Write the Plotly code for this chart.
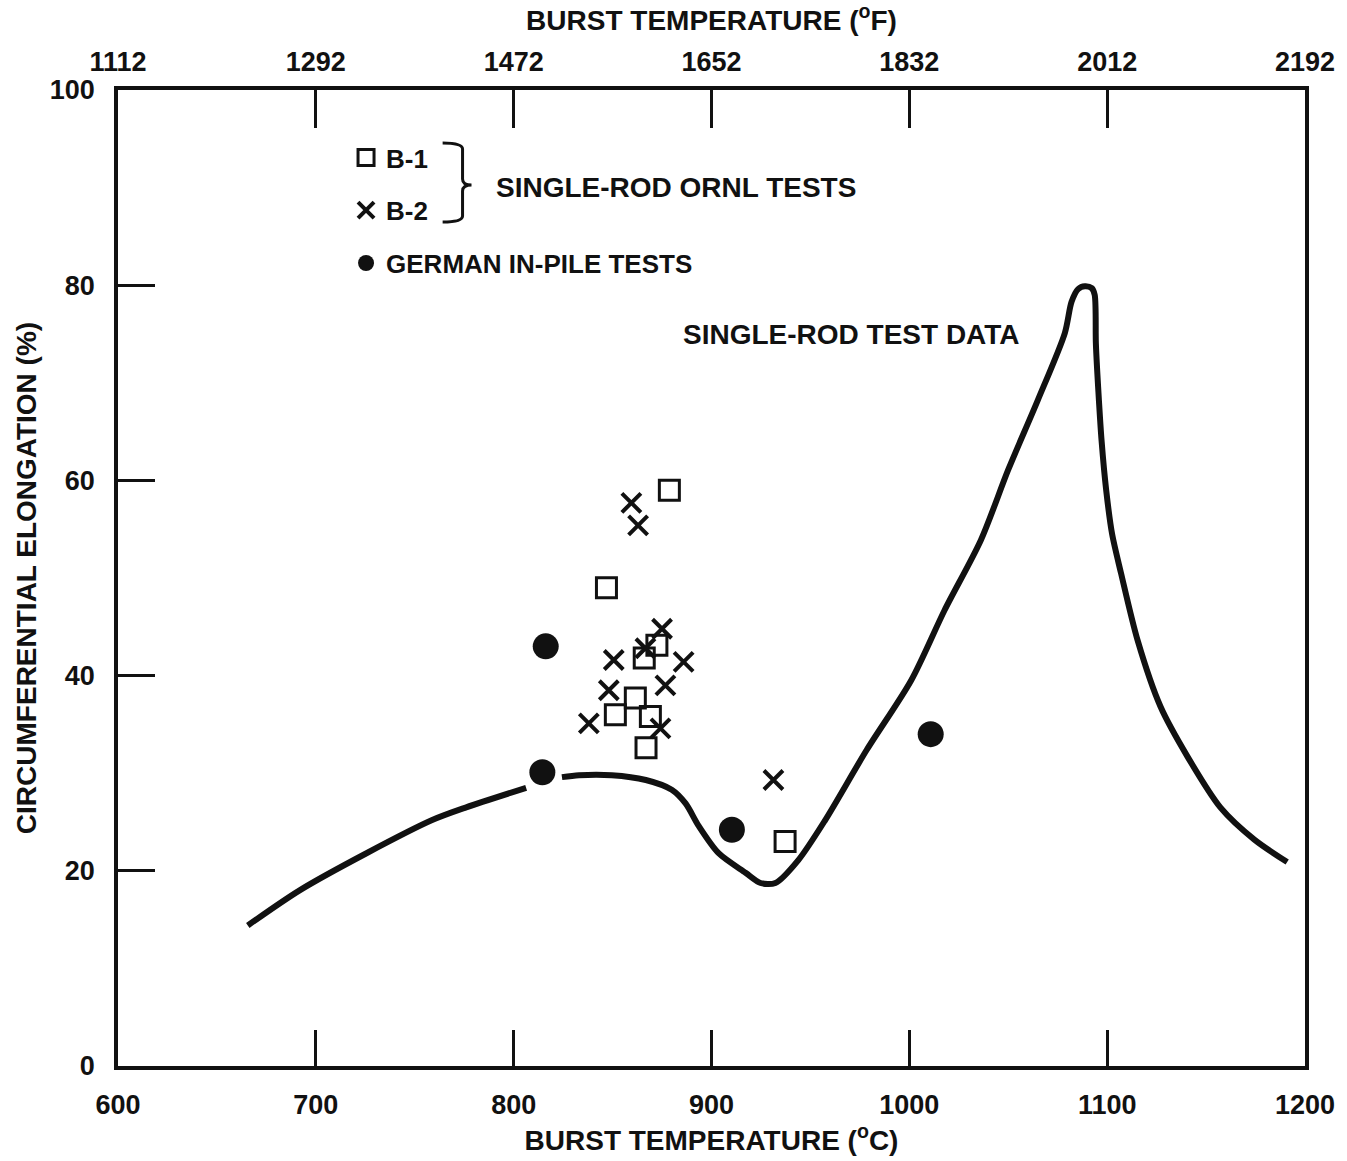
import plotly.graph_objects as go

# ---------------- data ----------------
# B-1 (squares)
b1_temp = [878.7, 846.9, 872.4, 866.0, 861.5, 851.4, 869.1, 866.9, 937.2]
b1_elong = [59.0, 49.0, 43.1, 41.8, 37.7, 36.0, 35.8, 32.6, 23.0]

# B-2 (crosses)
b2_temp = [859.5, 862.9, 875.0, 866.6, 850.6, 885.9, 876.7, 848.1, 838.0, 874.2, 931.3]
b2_elong = [57.7, 55.4, 44.8, 42.8, 41.6, 41.4, 39.0, 38.5, 35.1, 34.6, 29.3]

# German in-pile tests (filled circles)
ger_temp = [816.2, 814.5, 910.3, 1010.8]
ger_elong = [43.0, 30.1, 24.2, 34.0]

# Single-rod test data curve (two segments, broken near 815 C)
curve_temp_a = [665.6, 691.8, 725.6, 758.8, 776.0, 806.3]
curve_elong_a = [14.4, 18.0, 21.8, 25.2, 26.5, 28.5]
curve_temp_b = [824.4, 833.0, 849.6, 866.8, 879.9, 886.9, 893.5, 903.6, 917.2, 924.8,
                932.3, 943.9, 957.5, 978.5, 1000.9, 1017.8, 1036.2, 1050.0,
                1064.9, 1078.6, 1082.0, 1085.3, 1088.7, 1092.2, 1093.7, 1094.3,
                1095.6, 1097.2, 1099.5, 1102.5, 1107.0, 1115.4, 1127.0, 1140.6, 1157.2,
                1174.4, 1191.0]
curve_elong_b = [29.6, 29.8, 29.8, 29.3, 28.3, 26.9, 24.6, 21.8, 19.8, 18.75,
                 18.75, 21.1, 25.2, 32.4, 39.5, 46.7, 53.9, 61.1,
                 68.2, 75.1, 78.3, 79.6, 79.9, 79.7, 79.0, 74.0,
                 69.0, 64.0, 59.0, 54.5, 50.5, 43.6, 36.8, 31.7, 26.5,
                 23.2, 20.9]

# axes
c_ticks = [600, 700, 800, 900, 1000, 1100, 1200]
f_ticks = ["1112", "1292", "1472", "1652", "1832", "2012", "2192"]
y_ticks = [0, 20, 40, 60, 80, 100]

# ---------------- figure ----------------
W, H = 1347, 1161
ML, MR, MT, MB = 118, 37, 90, 95
PW, PH = W - ML - MR, H - MT - MB

def px(x, y):
    return (x - ML) / PW, (H - MB - y) / PH

FONT = "Liberation Sans, Arial, Helvetica, sans-serif"
INK = "#111111"

fig = go.Figure()

curve_x = curve_temp_a + [None] + curve_temp_b
curve_y = curve_elong_a + [None] + curve_elong_b
fig.add_trace(go.Scatter(x=curve_x, y=curve_y, mode="lines",
                         line=dict(color=INK, width=6, shape="spline", smoothing=0.8),
                         connectgaps=False, showlegend=False, hoverinfo="skip"))

fig.add_trace(go.Scatter(x=b1_temp, y=b1_elong, mode="markers", name="B-1",
                         legendgroup="b1",
                         marker=dict(symbol="square-open", size=20, color=INK,
                                     line=dict(width=3, color=INK))))
fig.add_trace(go.Scatter(x=b2_temp, y=b2_elong, mode="markers", name="B-2",
                         legendgroup="b2",
                         marker=dict(symbol="x-thin-open", size=19, color=INK,
                                     line=dict(width=4, color=INK))))
fig.add_trace(go.Scatter(x=ger_temp, y=ger_elong, mode="markers", name="GERMAN IN-PILE TESTS",
                         legendgroup="ger",
                         marker=dict(symbol="circle", size=26, color=INK)))

# invisible trace for top axis
fig.add_trace(go.Scatter(x=[600, 1200], y=[0, 0], xaxis="x2", mode="markers",
                         marker=dict(opacity=0), showlegend=False, hoverinfo="skip"))

tickfont = dict(family=FONT, size=27, color=INK, weight="bold")
titlefont = dict(family=FONT, size=28, color=INK, weight="bold")

fig.update_layout(
    width=W, height=H,
    margin=dict(l=ML, r=MR, t=MT, b=MB),
    paper_bgcolor="white", plot_bgcolor="white",
    font=dict(family=FONT, color=INK),
    xaxis=dict(range=[600, 1200], tickvals=c_ticks, ticktext=[str(v) for v in c_ticks],
               ticks="inside", ticklen=36, tickwidth=2.5, tickcolor=INK,
               showline=True, linewidth=3.5, linecolor=INK, showgrid=False, zeroline=False,
               tickfont=tickfont, ticklabelstandoff=12,
               title=dict(text="BURST TEMPERATURE (<sup>o</sup>C)", font=titlefont, standoff=4)),
    xaxis2=dict(range=[600, 1200], overlaying="x", side="top", tickvals=c_ticks, ticktext=f_ticks,
                ticks="inside", ticklen=38, tickwidth=2.5, tickcolor=INK,
                showline=True, linewidth=3.5, linecolor=INK, showgrid=False, zeroline=False,
                tickfont=tickfont, ticklabelstandoff=4,
                title=dict(text="BURST TEMPERATURE (<sup>o</sup>F)", font=titlefont, standoff=10)),
    yaxis=dict(range=[0, 100], tickvals=y_ticks, ticks="inside", ticklen=37, tickwidth=2.5,
               tickcolor=INK, showline=True, linewidth=3.5, linecolor=INK, mirror=True,
               showgrid=False, zeroline=False, tickfont=tickfont, ticklabelstandoff=14,
               title=dict(text="CIRCUMFERENTIAL ELONGATION (%)", font=titlefont, standoff=6)),
    legend=dict(x=px(347, 0)[0], y=px(0, 134)[1], xanchor="left", yanchor="top",
                bgcolor="rgba(0,0,0,0)", font=dict(family=FONT, size=26, color=INK, weight="bold"),
                traceorder="grouped", tracegroupgap=16, itemsizing="trace"),
    showlegend=True,
)

# brace for the legend
bx0, bx1, bxm = 444, 464, 473
by0, by1, bym = 143, 222, 185
pts = [(bx0, by0), (bx1 - 4, by0 + 1), (bx1, by0 + 6), (bx1, bym - 6), (bxm, bym),
       (bx1, bym + 6), (bx1, by1 - 6), (bx1 - 4, by1 - 1), (bx0, by1)]
pp = [px(a, b) for a, b in pts]
path = (f"M {pp[0][0]} {pp[0][1]} Q {pp[2][0]} {pp[0][1]} {pp[2][0]} {pp[2][1]} "
        f"L {pp[3][0]} {pp[3][1]} Q {pp[3][0]} {pp[4][1]} {pp[4][0]} {pp[4][1]} "
        f"Q {pp[5][0]} {pp[4][1]} {pp[5][0]} {pp[5][1]} L {pp[6][0]} {pp[6][1]} "
        f"Q {pp[6][0]} {pp[8][1]} {pp[8][0]} {pp[8][1]}")
fig.add_shape(type="path", path=path, xref="paper", yref="paper",
              line=dict(color=INK, width=3))

lblfont = dict(family=FONT, size=28, color=INK, weight="bold")
ax, ay = px(496, 187)
fig.add_annotation(x=ax, y=ay, xref="paper", yref="paper", text="SINGLE-ROD ORNL TESTS",
                   showarrow=False, xanchor="left", yanchor="middle", font=lblfont)
fig.add_annotation(x=884.4, y=74.9, xref="x", yref="y", text="SINGLE-ROD TEST DATA",
                   showarrow=False, xanchor="left", yanchor="middle", font=lblfont)

fig.write_html("out.html")
